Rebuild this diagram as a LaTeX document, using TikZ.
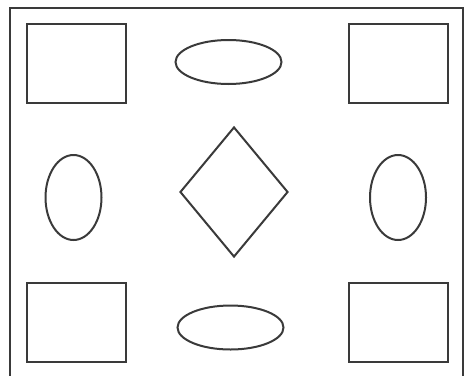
\documentclass[tikz,border=0pt]{standalone}
\usetikzlibrary{shapes.geometric}
\definecolor{inkgray}{HTML}{3A3A3A}

\begin{document}
\begin{tikzpicture}[
  x=0.75pt, y=-0.75pt,
  outline/.style={draw=inkgray, line width=1.5pt, inner sep=0pt},
  sqbox/.style={outline, rectangle, minimum width=74.25pt, minimum height=59.25pt},
  flatoval/.style={outline, ellipse, minimum width=79.5pt, minimum height=33pt},
  talloval/.style={outline, ellipse, minimum width=42pt, minimum height=63.75pt},
  rhomb/.style={outline, diamond, minimum width=81pt, minimum height=97.5pt}
]
\useasboundingbox (0,0) rectangle (466,375);

% frame (bottom edge runs off the page)
\draw[inkgray, line width=1.5pt] (10,380) -- (10,8) -- (463,8) -- (463,380);

% corner squares
\node[sqbox] (topleft) at (76.5,63.5) {};
\node[sqbox] (topright) at (398,63.5) {};
\node[sqbox] (botleft) at (76.5,322.5) {};
\node[sqbox] (botright) at (398,322.5) {};

% ovals
\node[flatoval] (topoval) at (228.5,62) {};
\node[flatoval] (botoval) at (230.5,327.5) {};
\node[talloval] (leftoval) at (73.5,197.5) {};
\node[talloval] (rightoval) at (398,197.5) {};

% middle
\node[rhomb] (centre) at (234,192) {};

\end{tikzpicture}
\end{document}
